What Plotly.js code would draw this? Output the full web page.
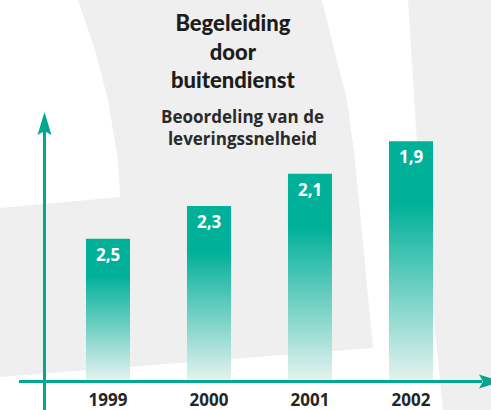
<!DOCTYPE html>
<html><head><meta charset="utf-8">
<script src="https://cdn.plot.ly/plotly-3.0.1.min.js"></script>
<style>html,body{margin:0;padding:0;background:#fff}</style>
</head><body>
<div id="chart" style="width:491px;height:410px"></div>
<script>
// ---- data ----
const years = ['1999', '2000', '2001', '2002'];
const scores = [2.5, 2.3, 2.1, 1.9];
const titleLines = ['Begeleiding', 'door', 'buitendienst'];
const subtitleLines = ['Beoordeling van de', 'leveringssnelheid'];

// ---- layout constants ----
const W = 491, H = 410, M = {l: 0, r: 0, t: 0, b: 30};
const plotH = H - M.t - M.b;
const BASE = 3.37, PXU = 162.5;          // reversed scale: lower score = taller bar
const yTop = BASE - plotH / PXU;
const HALF = 0.218;
const TEAL = 'rgb(0,176,153)';
const AXIS = 'rgb(0,168,145)';
const GRAY = '#efefef';
const FONT = 'Open Sans';

function P(x, y) { return [x / W, (H - M.b - y) / plotH]; }
function path(pts) {
  return 'M' + pts.map(p => { const q = P(p[0], p[1]); return q[0].toFixed(5) + ',' + q[1].toFixed(5); }).join('L') + 'Z';
}

const idx = years.map((_, i) => i);
const traces = [];
idx.forEach(i => {
  const v = scores[i];
  traces.push({
    type: 'scatter', mode: 'none',
    x: [i - HALF, i + HALF, i + HALF, i - HALF, i - HALF],
    y: [BASE, BASE, v, v, BASE],
    fill: 'toself',
    fillgradient: {type: 'vertical', start: BASE, stop: v,
      colorscale: [[0, '#e3f2ef'], [0.74, TEAL], [1, TEAL]]},
    hoverinfo: 'skip', showlegend: false
  });
});

const shapes = [
  {type: 'path', xref: 'paper', yref: 'paper', layer: 'below', fillcolor: GRAY, line: {width: 0},
   path: path([[78,0],[322,0],[335,53],[347,100],[355,160],[373,348],[0,377],[0,208],[120,197],[118,160],[108,100],[95,50]])},
  {type: 'path', xref: 'paper', yref: 'paper', layer: 'below', fillcolor: GRAY, line: {width: 0},
   path: path([[408,0],[491,0],[491,410],[443,410],[418,160]])},
  // axes
  {type: 'line', xref: 'paper', yref: 'paper', x0: P(44.5,0)[0], x1: P(44.5,0)[0], y0: P(0,128)[1], y1: P(0,412)[1], line: {color: AXIS, width: 3}},
  {type: 'line', xref: 'paper', yref: 'paper', x0: P(19,0)[0], x1: P(482,0)[0], y0: P(0,381.5)[1], y1: P(0,381.5)[1], line: {color: AXIS, width: 3}},
  {type: 'path', xref: 'paper', yref: 'paper', fillcolor: AXIS, line: {width: 0},
   path: path([[44.5,112],[51.5,135],[44.5,131],[37.5,135]])},
  {type: 'path', xref: 'paper', yref: 'paper', fillcolor: AXIS, line: {width: 0},
   path: path([[502,381.5],[479,388.5],[483,381.5],[479,374.5]])}
];

const annotations = [];
// value labels inside the bar tops
idx.forEach(i => annotations.push({
  text: '<b>' + scores[i].toFixed(1).replace('.', ',') + '</b>',
  xref: 'x', yref: 'y', x: i, y: scores[i], xanchor: 'center', yanchor: 'top', yshift: -2,
  showarrow: false, font: {family: FONT, size: 17, color: '#ffffff'}
}));
annotations.push({
  text: titleLines.join('<br>'), xref: 'paper', yref: 'paper', x: 232.5 / W, y: P(0, 51)[1],
  xanchor: 'center', yanchor: 'middle', showarrow: false,
  font: {family: 'Lato', size: 22, color: '#1c1c1c', weight: 900}
});
annotations.push({
  text: '<b>' + subtitleLines.join('<br>') + '</b>', xref: 'paper', yref: 'paper', x: 242 / W, y: P(0, 127.5)[1],
  xanchor: 'center', yanchor: 'middle', showarrow: false,
  font: {family: FONT, size: 17, color: '#2a2a2a'}
});

const layout = {
  width: W, height: H, margin: M,
  paper_bgcolor: '#ffffff', plot_bgcolor: 'rgba(0,0,0,0)',
  separators: ',.',
  showlegend: false,
  xaxis: {range: [-108 / 101, 383 / 101], tickvals: idx, ticktext: years, showgrid: false, zeroline: false,
    showline: false, ticks: '', ticklabelstandoff: 8,
    tickfont: {family: FONT, size: 17, color: '#262626', weight: 700}, fixedrange: true},
  yaxis: {range: [BASE, yTop], visible: false, fixedrange: true},
  shapes: shapes, annotations: annotations
};

Plotly.newPlot('chart', traces, layout, {displayModeBar: false, staticPlot: true});
</script>
</body></html>
